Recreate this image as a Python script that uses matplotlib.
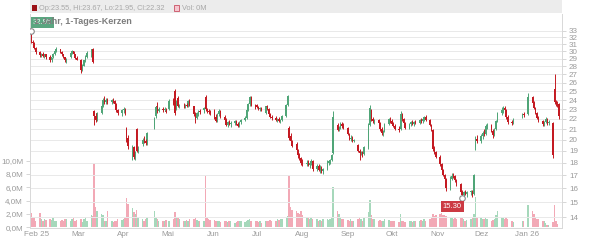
import numpy as np
import pandas as pd
import matplotlib
matplotlib.use('Agg')
import matplotlib.pyplot as plt
import matplotlib.dates as mdates
from matplotlib.ticker import FixedLocator, NullLocator
from matplotlib.patches import Rectangle

plt.rcParams['font.family'] = ['Liberation Sans', 'DejaVu Sans']

# trading days (Xetra), 28.01.2025 - 23.01.2026
holidays = ['2025-04-18', '2025-04-21', '2025-05-01', '2025-12-24',
            '2025-12-25', '2025-12-26', '2025-12-31', '2026-01-01']

open_px = [
    32.9, 31.4, 31.2, 30.5,
    29.9, 29.5, 29.7, 29.4, 29.6, 29.3, 28.8, 29.2, 29.7, 30.1, 30.3, 29.9, 29.6, 29.2, 28.8, 29.2, 29.8, 30.0, 29.6, 29.1,
    28.9, 27.6, 28.1, 28.8, 29.3, 29.8, 30.3, 22.8, 22.3, 21.9, 22.6, 23.4, 24.0, 23.8, 24.0, 23.8, 24.0, 23.9, 23.6, 22.9, 22.6,
    22.9, 23.0, 21.1, 20.2, 18.6, 19.3, 18.5, 21.0, 19.0, 19.6, 20.0, 19.9, 19.6, 21.2, 22.3, 23.4, 22.8, 23.0, 22.9, 23.0,
    23.0, 24.0, 25.0, 23.0, 24.2, 23.3, 23.4, 23.3, 23.5, 23.3, 23.9, 23.3, 22.5, 22.1, 22.6, 22.8, 22.9, 24.3, 23.0, 22.8, 22.7,
    22.8, 22.2, 21.8, 22.5, 22.8, 22.2, 21.9, 21.4, 21.7, 21.5, 21.6, 21.8, 21.5, 21.3, 21.7, 21.9, 22.1, 22.9, 23.6, 24.3, 23.5,
    23.5, 23.2, 23.0, 23.1, 22.6, 23.3, 23.0, 22.5, 22.2, 22.1, 21.9, 22.0, 21.8, 21.9, 22.3, 23.5, 21.1, 20.3, 19.9, 19.6, 19.1, 18.6, 18.4,
    18.0, 17.9, 18.0, 17.8, 18.0, 18.1, 17.5, 17.7, 17.4, 17.6, 17.3, 17.5, 18.0, 18.1, 18.2, 18.8, 21.4, 20.9, 21.2, 21.5, 21.3,
    21.1, 20.5, 20.1, 20.2, 19.9, 19.5, 19.0, 18.8, 18.9, 18.7, 19.3, 21.4, 22.9, 22.0, 21.8, 21.9, 21.6, 21.0, 20.6, 20.8, 21.5, 22.0,
    21.8, 21.5, 21.3, 21.0, 21.0, 22.5, 22.0, 21.6, 21.1, 21.5, 21.7, 21.5, 21.7, 21.6, 21.9, 21.8, 22.0, 22.2, 21.9, 21.4, 20.9, 19.2, 18.9,
    18.5, 17.9, 17.4, 17.0, 16.7, 16.0, 16.7, 17.0, 16.9, 16.6, 16.3, 15.7, 15.5, 15.7, 15.6, 15.7, 15.8, 15.6, 19.3, 20.1,
    19.9, 20.3, 20.6, 20.5, 21.3, 21.4, 20.8, 20.4, 21.0, 21.8, 22.6, 22.9, 23.1, 22.9, 22.2, 21.7, 21.6, 22.3, 22.5,
    22.5, 24.3, 23.7, 23.1, 22.6, 22.1, 21.8, 21.5, 21.7, 22.0, 21.6, 21.6, 25.2, 23.8, 23.6, 23.55,
]
high_px = [
    32.95, 31.6, 31.3, 30.6,
    30.0, 29.8, 29.9, 29.7, 29.7, 29.5, 29.3, 29.8, 30.2, 30.6, 30.4, 30.0, 29.7, 29.3, 29.1, 29.9, 30.2, 30.1, 29.7, 29.4,
    29.0, 28.3, 28.9, 29.5, 30.0, 30.4, 30.5, 22.9, 22.6, 22.7, 23.6, 24.2, 24.4, 24.2, 24.2, 24.1, 24.2, 24.0, 23.7, 23.0, 23.0,
    23.2, 23.1, 21.2, 20.4, 19.5, 19.4, 19.0, 21.1, 19.4, 20.2, 20.3, 20.1, 20.7, 22.2, 23.3, 23.8, 23.2, 23.2, 23.2, 23.1,
    24.1, 24.2, 25.3, 24.0, 24.4, 23.6, 23.7, 23.6, 23.7, 24.0, 24.1, 23.4, 22.7, 22.7, 22.9, 23.0, 23.2, 24.6, 23.1, 23.0, 22.9,
    23.0, 22.5, 22.6, 23.0, 22.9, 22.4, 22.1, 21.8, 21.9, 21.8, 21.9, 21.9, 21.7, 21.8, 22.0, 22.3, 23.0, 23.7, 24.5, 24.4, 23.6,
    23.6, 23.4, 23.2, 23.2, 23.4, 23.5, 23.1, 22.6, 22.4, 22.3, 22.1, 22.2, 22.0, 22.4, 23.6, 24.6, 21.3, 20.6, 20.0, 19.8, 19.2, 18.8, 18.5,
    18.3, 18.2, 18.2, 18.1, 18.3, 18.2, 17.9, 17.9, 17.8, 17.7, 17.6, 18.2, 18.2, 18.3, 18.7, 22.8, 21.6, 21.3, 21.7, 21.7, 21.6,
    21.2, 20.6, 20.4, 20.3, 20.1, 19.6, 19.2, 19.0, 19.0, 19.4, 21.6, 23.5, 23.0, 22.2, 22.0, 22.0, 21.7, 21.2, 20.9, 21.6, 22.1, 22.2,
    22.0, 21.7, 21.5, 21.3, 22.8, 22.6, 22.1, 21.7, 21.6, 21.8, 21.9, 21.8, 21.9, 22.0, 22.1, 22.1, 22.3, 22.4, 22.0, 21.5, 21.0, 19.4, 19.0,
    18.6, 18.0, 17.5, 17.1, 16.8, 16.9, 17.2, 17.2, 17.0, 16.7, 16.4, 15.9, 15.8, 15.9, 15.8, 15.9, 15.9, 17.1, 20.3, 20.4,
    20.5, 20.8, 21.0, 21.5, 21.6, 21.5, 21.0, 21.1, 21.9, 22.7, 23.2, 23.3, 23.4, 23.0, 22.4, 21.9, 22.1, 22.6, 22.7,
    24.8, 24.5, 23.9, 23.2, 22.7, 22.3, 21.9, 21.8, 22.2, 22.1, 21.9, 21.7, 27.0, 24.0, 23.9, 23.67,
]
low_px = [
    31.2, 30.9, 30.3, 29.7,
    29.3, 29.2, 29.3, 29.1, 29.0, 28.6, 28.6, 29.1, 29.5, 29.9, 29.8, 29.4, 29.1, 28.6, 28.5, 29.1, 29.6, 29.5, 29.0, 28.8,
    27.2, 27.4, 28.0, 28.6, 29.1, 29.3, 28.5, 21.4, 21.7, 21.8, 22.5, 23.2, 23.6, 23.6, 23.6, 23.6, 23.7, 23.4, 22.7, 22.4, 22.3,
    22.6, 22.4, 19.8, 19.2, 18.2, 18.3, 18.2, 18.9, 18.8, 19.4, 19.7, 19.5, 19.5, 21.0, 22.1, 22.6, 22.7, 22.7, 22.8, 22.6,
    22.9, 23.5, 22.4, 22.9, 23.2, 23.1, 23.1, 23.1, 23.2, 23.2, 23.3, 22.3, 21.6, 22.0, 22.3, 22.5, 22.6, 22.8, 22.6, 22.5, 22.4,
    22.0, 21.7, 21.7, 22.3, 22.1, 21.8, 21.3, 21.2, 21.4, 21.2, 21.4, 21.4, 21.2, 21.2, 21.5, 21.8, 22.0, 22.8, 23.4, 23.3, 23.0,
    23.1, 22.9, 22.8, 22.8, 22.5, 22.9, 22.4, 22.1, 21.9, 21.8, 21.7, 21.7, 21.6, 21.8, 22.2, 23.4, 20.0, 19.7, 19.3, 19.0, 18.4, 18.2, 17.8,
    17.7, 17.7, 17.7, 17.6, 17.8, 17.3, 17.3, 17.3, 17.2, 17.2, 17.1, 17.4, 17.8, 17.9, 18.1, 18.7, 20.8, 20.8, 21.0, 21.1, 21.0,
    20.4, 20.0, 19.9, 19.8, 19.8, 18.9, 18.2, 18.6, 18.5, 18.6, 19.2, 21.3, 21.8, 21.6, 21.5, 21.4, 20.8, 20.4, 20.3, 20.7, 21.4, 21.6,
    21.4, 21.2, 20.9, 20.7, 20.9, 21.8, 21.4, 21.0, 21.0, 21.3, 21.4, 21.3, 21.5, 21.5, 21.6, 21.6, 21.8, 21.8, 21.3, 20.8, 19.0, 18.7, 18.4,
    17.7, 17.3, 16.9, 16.6, 15.8, 15.9, 16.6, 16.8, 16.5, 16.2, 15.6, 15.3, 15.4, 15.5, 15.4, 15.5, 15.4, 15.5, 19.1, 19.7,
    19.7, 20.1, 20.3, 20.4, 21.0, 20.7, 20.2, 20.3, 20.9, 21.7, 22.4, 22.6, 22.8, 22.0, 21.5, 21.4, 21.5, 22.1, 22.2,
    22.4, 23.5, 23.0, 22.5, 22.0, 21.7, 21.3, 21.3, 21.6, 21.4, 21.4, 18.4, 23.6, 23.4, 23.2, 21.95,
]
close_px = [
    31.4, 31.2, 30.5, 29.9,
    29.5, 29.7, 29.4, 29.6, 29.2, 28.8, 29.2, 29.7, 30.1, 30.3, 29.9, 29.6, 29.2, 28.8, 29.0, 29.8, 30.0, 29.6, 29.1, 28.9,
    27.6, 28.1, 28.8, 29.3, 29.8, 30.3, 28.6, 22.3, 21.9, 22.6, 23.4, 24.0, 23.8, 24.0, 23.8, 24.0, 23.9, 23.6, 22.9, 22.6, 22.9,
    23.0, 22.6, 20.1, 19.4, 19.2, 18.5, 18.9, 19.0, 19.2, 20.0, 19.9, 19.7, 20.6, 22.1, 23.2, 22.8, 23.0, 22.9, 23.0, 22.7,
    23.9, 23.6, 22.6, 23.8, 23.3, 23.4, 23.3, 23.5, 23.3, 23.9, 23.5, 22.5, 22.1, 22.6, 22.8, 22.7, 23.1, 23.0, 22.8, 22.7, 22.6,
    22.2, 21.8, 22.5, 22.8, 22.2, 21.9, 21.4, 21.7, 21.5, 21.6, 21.8, 21.5, 21.3, 21.7, 21.9, 22.1, 22.9, 23.6, 24.3, 23.5, 23.2,
    23.2, 23.0, 23.1, 22.9, 23.3, 23.0, 22.5, 22.2, 22.1, 21.9, 22.0, 21.8, 21.9, 22.3, 23.5, 24.4, 20.2, 19.9, 19.4, 19.1, 18.6, 18.4, 18.0,
    17.9, 18.0, 17.8, 18.0, 18.1, 17.5, 17.7, 17.4, 17.6, 17.3, 17.5, 18.0, 18.1, 18.2, 18.6, 22.2, 20.9, 21.2, 21.5, 21.3, 21.1,
    20.5, 20.1, 20.2, 19.9, 20.0, 19.0, 18.8, 18.9, 18.7, 19.3, 21.4, 23.1, 22.0, 21.8, 21.9, 21.6, 21.0, 20.6, 20.8, 21.5, 22.0, 21.8,
    21.5, 21.3, 21.0, 20.9, 22.5, 22.0, 21.6, 21.1, 21.5, 21.7, 21.5, 21.7, 21.6, 21.9, 21.8, 22.0, 22.2, 21.9, 21.4, 20.9, 19.2, 18.9, 18.5,
    17.9, 17.4, 17.0, 16.7, 16.0, 16.7, 16.9, 16.9, 16.6, 16.3, 15.7, 15.5, 15.7, 15.6, 15.7, 15.8, 15.5, 17.0, 20.1, 19.9,
    20.3, 20.6, 20.5, 21.3, 21.4, 20.8, 20.4, 21.0, 21.8, 22.6, 22.9, 23.1, 22.9, 22.2, 21.7, 21.6, 22.0, 22.5, 22.4,
    24.3, 23.7, 23.1, 22.6, 22.1, 21.8, 21.5, 21.7, 22.0, 21.6, 21.7, 18.6, 23.8, 23.6, 23.55, 22.32,
]
# volume in millions
volume = [
    2.1, 1.5, 1.5, 0.9,
    2.1, 1.2, 1.0, 1.3, 1.1, 1.3, 1.1, 1.4, 1.0, 1.0, 0.9, 1.1, 1.0, 1.3, 1.2, 1.0, 1.3, 1.4, 1.0, 1.1,
    1.3, 0.8, 1.2, 1.6, 0.9, 1.8, 1.7, 9.7, 3.0, 2.4, 2.0, 1.8, 1.0, 1.0, 2.5, 1.0, 0.8, 1.0, 1.0, 1.2, 1.1,
    1.2, 1.5, 4.4, 3.5, 2.9, 2.3, 2.0, 2.6, 1.5, 1.2, 1.0, 1.3, 1.5, 2.4, 1.6, 1.2, 1.0, 0.9, 1.0, 1.1,
    1.0, 1.2, 2.3, 1.5, 1.4, 1.2, 1.0, 0.9, 1.1, 1.0, 1.3, 1.2, 1.4, 1.1, 1.0, 0.9, 1.0, 7.9, 1.5, 1.2, 1.1,
    1.1, 1.0, 0.9, 1.0, 0.8, 0.9, 1.0, 0.8, 0.9, 1.0, 0.7, 0.8, 0.9, 1.0, 0.9, 0.8, 1.0, 1.1, 1.2, 1.0, 0.9,
    0.9, 0.8, 0.9, 0.7, 1.0, 0.9, 1.0, 1.1, 0.9, 1.0, 1.2, 1.1, 1.3, 1.2, 1.5, 1.7, 7.9, 3.0, 2.6, 2.5, 2.2, 2.0, 2.5,
    1.8, 1.5, 1.4, 1.2, 1.6, 1.3, 1.2, 1.0, 1.1, 1.0, 1.2, 1.3, 1.1, 1.2, 1.5, 6.0, 2.5, 2.0, 1.5, 1.3, 1.2,
    1.1, 1.0, 1.2, 0.9, 1.0, 1.3, 1.5, 1.2, 1.0, 1.4, 2.3, 4.1, 1.8, 1.3, 1.2, 1.0, 1.1, 0.9, 1.0, 1.2, 1.1, 1.0,
    1.0, 0.9, 1.0, 0.8, 2.0, 1.0, 0.9, 0.8, 1.0, 0.9, 0.8, 1.0, 0.9, 1.0, 1.1, 1.0, 1.2, 1.0, 1.3, 1.5, 2.0, 1.7, 1.9,
    2.0, 2.1, 1.9, 1.8, 1.7, 1.6, 1.4, 1.2, 1.5, 1.3, 1.6, 1.4, 1.2, 1.0, 1.1, 1.3, 1.5, 2.0, 4.5, 1.6,
    1.5, 1.2, 1.3, 1.4, 1.2, 1.0, 1.1, 1.3, 1.8, 2.5, 1.6, 1.4, 1.2, 1.5, 1.3, 1.0, 0.8, 0.9, 1.0,
    3.3, 2.5, 2.0, 1.5, 1.3, 1.2, 1.0, 0.9, 0.6, 0.4, 0.3, 0.8, 3.3, 1.0, 0.5, 0.05,
]

month_labels = ['Feb 25', 'Mar', 'Apr', 'Mai', 'Jun', 'Jul', 'Aug', 'Sep', 'Okt', 'Nov', 'Dez', 'Jan 26']
price_ticks = list(range(14, 34))
vol_ticks = [0, 2, 4, 6, 8, 10]
vol_labels = ['0,0M', '2,0M', '4,0M', '6,0M', '8,0M', '10,0M']

dates = pd.bdate_range('2025-01-28', '2026-01-23')
dates = dates[~dates.isin(pd.to_datetime(holidays))]
x = mdates.date2num(dates)

o = np.array(open_px); h = np.array(high_px); l = np.array(low_px); c = np.array(close_px)
v = np.array(volume)
up = c >= o

RED = '#c41a22'
GREEN = '#4fa577'
GRID = '#e9e9e9'
TXT = '#9a9a9a'

fig = plt.figure(figsize=(6, 2.4), dpi=100)
axv = fig.add_axes([30/600, 12/240, 532/600, 214/240])
ax = axv.twinx()
ax.set_zorder(axv.get_zorder() + 1)
ax.patch.set_visible(False)

# volume
axv.bar(x, v, width=1.0, color=np.where(up, '#a6d8bb', '#f2a9b6'), linewidth=0)
axv.set_ylim(-0.1, 32)
axv.yaxis.set_major_locator(FixedLocator(vol_ticks))
axv.set_yticklabels(vol_labels)

# candles
cols = np.where(up, GREEN, RED)
ax.vlines(x, l, h, colors=cols, linewidth=0.7)
body_lo = np.minimum(o, c)
body_h = np.maximum(np.abs(c - o), 0.04)
ax.bar(x, body_h, bottom=body_lo, width=1.05, color=cols, linewidth=0)

ax.set_yscale('log')
ax.set_ylim(13.33, 35.63)
ax.yaxis.set_major_locator(FixedLocator(price_ticks))
ax.yaxis.set_minor_locator(NullLocator())
ax.set_yticklabels([str(t) for t in price_ticks])

feb1 = mdates.date2num(pd.Timestamp('2025-02-01'))
ax.set_xlim(feb1 - 4.8, feb1 + 358.1)
month_pos = mdates.date2num(pd.date_range('2025-02-01', '2026-01-01', freq='MS'))
ax.set_xticks(month_pos)
ax.set_xticklabels(month_labels)
for lab in ax.get_xticklabels():
    if lab.get_text() in ('Feb 25', 'Jan 26'):
        lab.set_fontweight('bold')
        lab.set_color('#7a7a7a')

ax.grid(True, axis='both', color=GRID, linewidth=0.7)
ax.set_axisbelow(True)
for a in (ax, axv):
    for s in a.spines.values():
        s.set_color('#d9d9d9')
        s.set_linewidth(0.7)
    a.spines['top'].set_visible(False)
    a.tick_params(labelsize=5.8, colors='#d0d0d0', labelcolor=TXT, length=3, width=0.6, pad=2)
axv.tick_params(axis='x', length=0)
ax.tick_params(axis='x', length=0, pad=3)

# high / low markers
i_hi = int(np.argmax(h))
i_lo = int(np.argmin(l))
ax.plot(x[i_hi], h[i_hi], 'o', ms=4, mfc='white', mec='#888888', mew=0.8, zorder=5)
ax.plot(x[i_lo], l[i_lo], 'o', ms=4, mfc='white', mec='#888888', mew=0.8, zorder=5)

# header bar
fig.patches.append(Rectangle((30/600, 227/240), 532/600, 13/240, transform=fig.transFigure,
                             facecolor='#ececec', edgecolor='none', zorder=0))
fig.patches.append(Rectangle((32/600, 229/240), 5/600, 6/240, transform=fig.transFigure,
                             facecolor='#9b1116', edgecolor='none', zorder=2))
fig.text(39/600, 232/240, 'Op:23.55, Hi:23.67, Lo:21.95, Cl:22.32', fontsize=5.3,
         color='#a8a8a8', va='center', ha='left')
fig.patches.append(Rectangle((174/600, 229/240), 5/600, 6/240, transform=fig.transFigure,
                             facecolor='#f6c6cf', edgecolor='#c94f63', linewidth=0.6, zorder=2))
fig.text(182/600, 232/240, 'Vol: 0M', fontsize=5.3, color='#a8a8a8', va='center', ha='left')

fig.text(34/600, 219/240, '1 Jahr, 1-Tages-Kerzen', fontsize=6.5, fontweight='bold',
         color='#7d7d7d', va='center', ha='left')

ax.annotate(f'{h[i_hi]:.2f}', xy=(x[i_hi], h[i_hi]), xytext=(8, 6), textcoords='offset points',
            ha='center', va='center', fontsize=5.5, color='white', zorder=6,
            bbox=dict(boxstyle='square,pad=0.25', facecolor='#5aa680', edgecolor='none'))
ax.annotate(f'{l[i_lo]:.2f}', xy=(x[i_lo], l[i_lo]), xytext=(-7, -6), textcoords='offset points',
            ha='center', va='center', fontsize=5.5, color='white', zorder=6,
            bbox=dict(boxstyle='square,pad=0.25', facecolor='#cc3a43', edgecolor='none'))

fig.savefig('out.png', dpi=100)
